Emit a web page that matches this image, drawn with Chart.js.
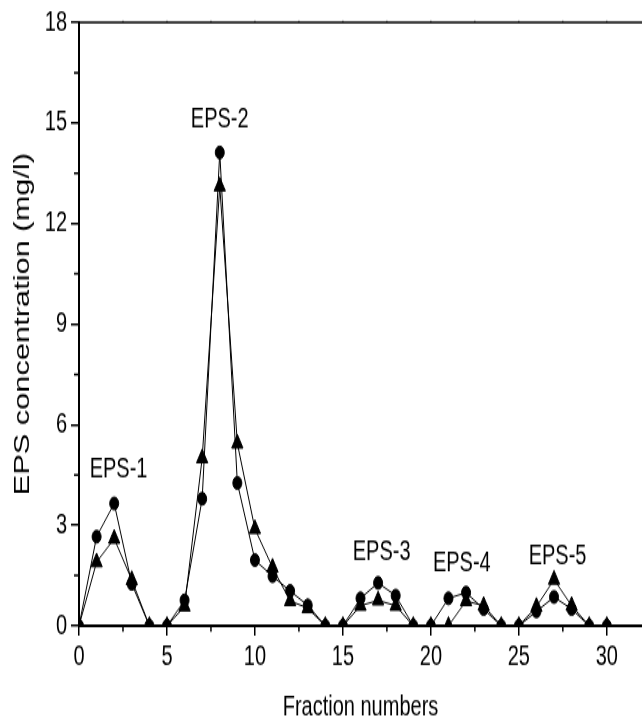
<!DOCTYPE html>
<html>
<head>
<meta charset="utf-8">
<script src="https://cdn.jsdelivr.net/npm/chart.js@4/dist/chart.umd.min.js"></script>
<style>
  html, body { margin: 0; padding: 0; background: #fff; overflow: hidden; }
  /* the figure is drawn at 642x515 and stretched vertically to fill 642x721 */
  #wrap { position: absolute; left: 0; top: 0; width: 642px; height: 515px;
          transform: scaleY(1.4); transform-origin: 0 0; }
</style>
</head>
<body>
<div id="wrap"><canvas id="chart"></canvas></div>
<script>
// Fraction numbers collected from the column
const fractions = [0, 1, 2, 3, 4, 5, 6, 7, 8, 9, 10, 11, 12, 13, 14, 15,
                   16, 17, 18, 19, 20, 21, 22, 23, 24, 25, 26, 27, 28, 29, 30];

// EPS concentration (mg/l), circle markers
const epsCircle = [0, 2.66, 3.65, 1.25, 0, 0, 0.76, 3.79, 14.12, 4.26, 1.96, 1.48, 1.04, 0.61, 0, 0,
                   0.82, 1.28, 0.9, 0, 0, 0.82, 0.99, 0.5, 0, 0, 0.43, 0.86, 0.5, 0, 0];

// EPS concentration (mg/l), triangle markers
const epsTriangle = [0, 1.9, 2.6, 1.37, 0, 0, 0.58, 5.0, 13.11, 5.44, 2.89, 1.74, 0.74, 0.53, 0, 0,
                     0.6, 0.76, 0.6, 0, 0, 0, 0.74, 0.6, 0, 0, 0.57, 1.38, 0.6, 0, 0];

// Peak names and where they are written (data units)
const peakNames = ['EPS-1', 'EPS-2', 'EPS-3', 'EPS-4', 'EPS-5'];
const peakX = [2.25, 8.0, 17.2, 21.76, 27.2];
const peakY = [4.66, 15.1, 2.19, 1.85, 2.07];

const FONT = '"Liberation Sans", Arial, Helvetica, sans-serif';

const toPoints = (ys) => fractions.map((f, i) => ({ x: f, y: ys[i] }));

// Minor ticks, top frame line and peak labels
const decor = {
  id: 'decor',
  afterDraw(chart) {
    const { ctx, chartArea: a, scales: { x, y } } = chart;
    ctx.save();
    ctx.strokeStyle = '#000';
    ctx.lineWidth = 1.5;
    ctx.beginPath();
    ctx.moveTo(a.left, a.top);
    ctx.lineTo(a.right, a.top);
    ctx.stroke();

    ctx.beginPath();
    for (let v = 2.5; v < x.max; v += 5) {
      const px = x.getPixelForValue(v);
      ctx.moveTo(px, a.bottom);
      ctx.lineTo(px, a.bottom + 4.3);
    }
    for (let v = 1.5; v < y.max; v += 3) {
      const py = y.getPixelForValue(v);
      ctx.moveTo(a.left, py);
      ctx.lineTo(a.left - 5, py);
    }
    ctx.stroke();

    ctx.lineWidth = 1;
    ctx.beginPath();
    for (let v = 2.5; v < x.max; v += 2.5) {
      const px = x.getPixelForValue(v);
      ctx.moveTo(px, a.top);
      ctx.lineTo(px, a.top - 1.2);
    }
    ctx.stroke();

    ctx.fillStyle = '#000';
    ctx.font = '20px ' + FONT;
    ctx.textAlign = 'center';
    ctx.textBaseline = 'middle';
    peakNames.forEach((name, i) => {
      ctx.fillText(name, x.getPixelForValue(peakX[i]), y.getPixelForValue(peakY[i]));
    });
    ctx.restore();
  }
};

new Chart(document.getElementById('chart'), {
  type: 'line',
  data: {
    datasets: [
      {
        data: toPoints(epsCircle),
        borderColor: '#000', backgroundColor: '#000', borderWidth: 1,
        pointStyle: 'circle', pointRadius: 4.5, pointBorderWidth: 1,
        pointBackgroundColor: '#000', pointBorderColor: '#000', tension: 0
      },
      {
        data: toPoints(epsTriangle),
        borderColor: '#000', backgroundColor: '#000', borderWidth: 1,
        pointStyle: 'triangle', pointRadius: 6.5, pointBorderWidth: 1,
        pointBackgroundColor: '#000', pointBorderColor: '#000', tension: 0
      }
    ]
  },
  options: {
    responsive: true,
    maintainAspectRatio: false,
    animation: false,
    events: [],
    layout: { autoPadding: false, padding: { top: 16, right: 0, left: 0, bottom: 0 } },
    plugins: { legend: { display: false }, tooltip: { enabled: false } },
    scales: {
      x: {
        type: 'linear', min: 0, max: 32,
        afterFit(s) { s.height = 68; s.paddingLeft = 0; s.paddingRight = 0; },
        ticks: { stepSize: 5, includeBounds: false, color: '#000', padding: 3,
                 font: { family: FONT, size: 20 } },
        grid: { drawOnChartArea: false, tickLength: 7, lineWidth: 1.5, color: '#000' },
        border: { display: true, color: '#000', width: 2 },
        title: { display: true, text: 'Fraction numbers', color: '#000',
                 font: { family: FONT, size: 20, lineHeight: 1 }, padding: { top: 0, bottom: 0 } }
      },
      y: {
        min: 0, max: 18,
        afterFit(s) { s.width = 79; },
        ticks: { stepSize: 3, color: '#000', padding: 4,
                 font: { family: FONT, size: 20 } },
        grid: { drawOnChartArea: false, tickLength: 8, lineWidth: 1.5, color: '#000' },
        border: { display: true, color: '#000', width: 2 },
        title: { display: true, text: 'EPS concentration (mg/l)', color: '#000',
                 font: { family: FONT, size: 22 }, padding: { top: 10, bottom: 0 } }
      }
    }
  },
  plugins: [decor]
});
</script>
</body>
</html>
